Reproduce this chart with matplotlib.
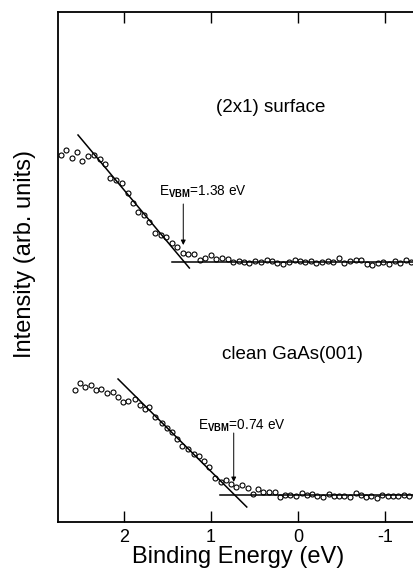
import numpy as np
import matplotlib
matplotlib.use("Agg")
import matplotlib.pyplot as plt

plt.rcParams['font.family'] = ['Liberation Sans', 'DejaVu Sans']
plt.rcParams['mathtext.fontset'] = 'custom'
plt.rcParams['mathtext.rm'] = 'Liberation Sans'
plt.rcParams['mathtext.bf'] = 'Liberation Sans:bold'

# ------------------------------------------------------------
# Daten
# ------------------------------------------------------------
# (2x1) surface
E_top = [2.73, 2.67, 2.60, 2.54, 2.48, 2.41, 2.35, 2.28, 2.22, 2.16,
         2.09, 2.03, 1.96, 1.90, 1.84, 1.77, 1.71, 1.64, 1.58, 1.52,
         1.45, 1.39, 1.32, 1.26, 1.20, 1.13, 1.07, 1.00, 0.94, 0.88,
         0.81, 0.75, 0.68, 0.62, 0.56, 0.49, 0.43, 0.36, 0.30, 0.24,
         0.17, 0.11, 0.04, -0.02, -0.08, -0.15, -0.21, -0.28, -0.34, -0.40,
         -0.47, -0.53, -0.60, -0.66, -0.72, -0.79, -0.85, -0.92, -0.98, -1.04,
         -1.11, -1.17, -1.24, -1.30, -1.36]
I_top = [3.67, 3.72, 3.64, 3.70, 3.61, 3.66, 3.67, 3.63, 3.58, 3.44,
         3.42, 3.39, 3.29, 3.19, 3.10, 3.07, 3.00, 2.89, 2.87, 2.85,
         2.79, 2.75, 2.69, 2.68, 2.68, 2.62, 2.64, 2.67, 2.63, 2.64,
         2.63, 2.60, 2.61, 2.60, 2.59, 2.61, 2.60, 2.62, 2.61, 2.59,
         2.58, 2.60, 2.62, 2.61, 2.60, 2.61, 2.59, 2.60, 2.61, 2.60,
         2.64, 2.59, 2.61, 2.62, 2.62, 2.58, 2.57, 2.59, 2.60, 2.58,
         2.61, 2.59, 2.62, 2.60, 2.60]

# clean GaAs(001)
E_bot = [2.57, 2.51, 2.45, 2.38, 2.32, 2.26, 2.20, 2.13, 2.07, 2.01,
         1.95, 1.88, 1.82, 1.76, 1.71, 1.64, 1.57, 1.51, 1.45, 1.39,
         1.33, 1.26, 1.20, 1.14, 1.08, 1.02, 0.95, 0.89, 0.83, 0.77,
         0.71, 0.64, 0.58, 0.52, 0.46, 0.40, 0.33, 0.27, 0.21, 0.15,
         0.09, 0.02, -0.04, -0.10, -0.16, -0.22, -0.29, -0.35, -0.41, -0.47,
         -0.53, -0.60, -0.66, -0.72, -0.78, -0.84, -0.91, -0.97, -1.03, -1.09,
         -1.15, -1.22, -1.28, -1.34]
I_bot = [1.32, 1.39, 1.35, 1.37, 1.32, 1.33, 1.29, 1.30, 1.25, 1.20,
         1.21, 1.23, 1.17, 1.13, 1.15, 1.05, 0.99, 0.94, 0.90, 0.83,
         0.76, 0.73, 0.68, 0.66, 0.61, 0.55, 0.44, 0.40, 0.42, 0.38,
         0.35, 0.37, 0.34, 0.28, 0.33, 0.30, 0.30, 0.30, 0.25, 0.27,
         0.27, 0.26, 0.29, 0.27, 0.28, 0.26, 0.25, 0.28, 0.26, 0.26,
         0.26, 0.25, 0.29, 0.27, 0.25, 0.26, 0.24, 0.27, 0.26, 0.26,
         0.26, 0.27, 0.26, 0.27]

# Geraden (Anpassung) und VBM-Pfeile
fit_top_E = [2.53, 1.25]
fit_top_I = [3.87, 2.54]
base_top_E = [1.45, -1.40]
base_top_I = [2.60, 2.60]
vbm_top = 1.32
arrow_top_I = [3.18, 2.77]

fit_bot_E = [2.07, 0.59]
fit_bot_I = [1.43, 0.15]
base_bot_E = [0.90, -1.40]
base_bot_I = [0.27, 0.27]
vbm_bot = 0.74
arrow_bot_I = [0.89, 0.40]

x_ticks = [2, 1, 0, -1]

# ------------------------------------------------------------
# Plot
# ------------------------------------------------------------
fig = plt.figure(figsize=(4.14, 5.74), dpi=100)
ax = fig.add_axes([58/414, 1 - 522/574, 1 - 58/414 + 0.01, (522 - 12)/574])

ax.plot(E_top, I_top, 'o', ms=3.6, mfc='white', mec='black', mew=0.8)
ax.plot(E_bot, I_bot, 'o', ms=3.6, mfc='white', mec='black', mew=0.8)

for xs, ys in [(fit_top_E, fit_top_I), (base_top_E, base_top_I),
               (fit_bot_E, fit_bot_I), (base_bot_E, base_bot_I)]:
    ax.plot(xs, ys, 'k-', lw=1.1)

for e, (y0, y1) in [(vbm_top, arrow_top_I), (vbm_bot, arrow_bot_I)]:
    ax.annotate('', xy=(e, y1), xytext=(e, y0),
                arrowprops=dict(arrowstyle='-|>', color='black', lw=0.7,
                                mutation_scale=7, shrinkA=0, shrinkB=0))

ax.text(1.60, 3.30, r'E$_{\mathbf{VBM}}$=1.38 eV', fontsize=9.8, va='center')
ax.text(1.15, 0.96, r'E$_{\mathbf{VBM}}$=0.74 eV', fontsize=9.8, va='center')
ax.text(0.31, 4.14, '(2x1) surface', fontsize=13.5, ha='center', va='center')
ax.text(0.07, 1.67, 'clean GaAs(001)', fontsize=13.5, ha='center', va='center')

ax.set_xlim(2.76, -1.38)
ax.set_ylim(0.0, 5.10)
ax.set_xticks(x_ticks)
ax.set_xticklabels(['2', '1', '0', '-1'])
ax.set_yticks([])
ax.tick_params(axis='x', direction='in', length=8, width=1.0, top=True,
               labelsize=13, pad=5)
for s in ['left', 'bottom', 'top']:
    ax.spines[s].set_linewidth(1.3)
ax.spines['right'].set_visible(False)

ax.set_xlabel('Binding Energy (eV)', fontsize=17, labelpad=0)
ax.set_ylabel('Intensity (arb. units)', fontsize=17)
ax.yaxis.set_label_coords(-0.06, 0.525)

fig.savefig('out.png', dpi=100)
